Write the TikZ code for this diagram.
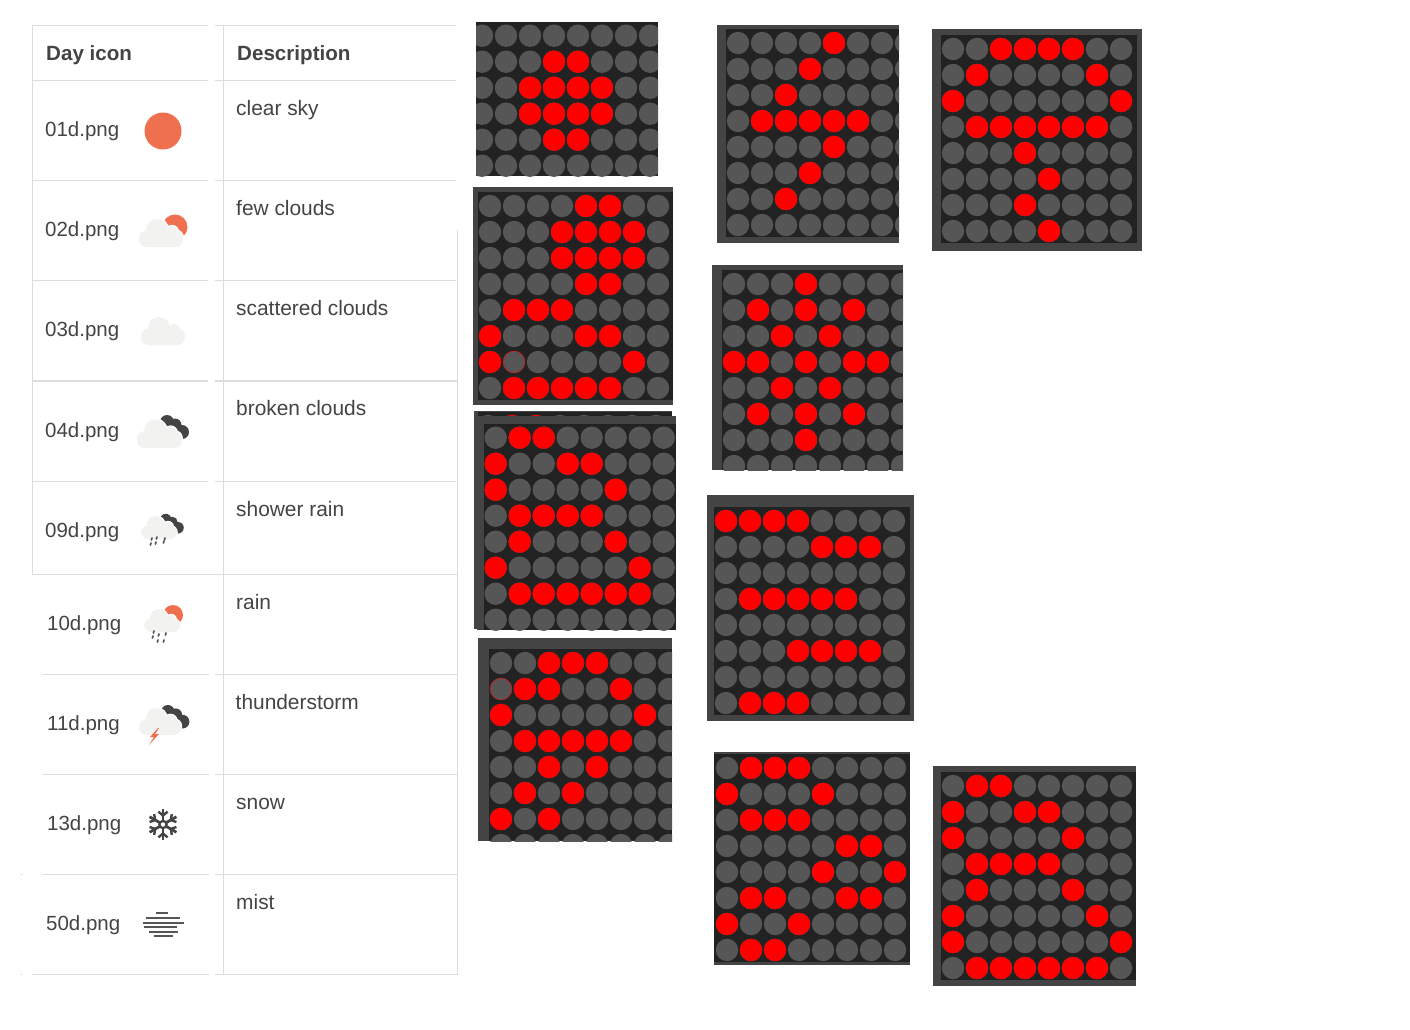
\documentclass[tikz,border=0pt]{standalone}
\usepackage{fontspec}
\setmainfont{Liberation Sans}
\definecolor{rulegrey}{HTML}{DDDDDD}
\definecolor{inktext}{HTML}{444444}
\definecolor{sunorange}{HTML}{EF704F}
\definecolor{cloudlight}{HTML}{F2F2F0}
\definecolor{clouddark}{HTML}{444446}
\definecolor{ledframe}{HTML}{444444}
\definecolor{ledbase}{HTML}{222222}
\definecolor{ledoff}{HTML}{565656}
\definecolor{ledon}{HTML}{FF0000}
\tikzset{
  rulea/.style={draw=rulegrey,line width=1pt},
  ruleb/.style={draw=rulegrey,line width=2pt},
  fname/.style={anchor=base west,inner sep=0pt,text=inktext,font=\fontsize{20.5}{24}\selectfont},
  fdesc/.style={anchor=base west,inner sep=0pt,text=inktext,font=\fontsize{20.9}{24}\selectfont},
  fhead/.style={anchor=base west,inner sep=0pt,text=inktext,font=\fontsize{20.6}{24}\selectfont\bfseries},
}
% outer frame
\newcommand\ledframebox[4]{\fill[ledframe] (#1,#2) rectangle (#3,#4);}
% inner panel: x0 y0 x1 y1, first dot centre, red cells by row
\newcommand\ledgrid[7]{%
  \begin{scope}
    \clip (#1,#2) rectangle (#3,#4);
    \fill[ledbase] (#1,#2) rectangle (#3,#4);
    \foreach \rr in {0,...,7}{\foreach \cc in {0,...,7}{
      \fill[ledoff] ({#5+24*\cc},{#6+26*\rr}) circle (11.2);}}
    \foreach \rr/\cs in {#7}{\foreach \cc in \cs{
      \fill[ledon] ({#5+24*\cc},{#6+26*\rr}) circle (11.2);}}
  \end{scope}}
\newcommand\cloudicon[3]{% light cloud with a thin white halo; x(left) y(bottom) scale
  \begin{scope}[shift={(#1,#2)},scale=#3]
    \fill[white] (18,-17) circle (12.2) (33,-15) circle (7.2);
    \fill[white,rounded corners=8] (-1,-17.5) rectangle (45,1);
    \fill[cloudlight,rounded corners=7.5] (0,-16.5) rectangle (44,0);
    \fill[cloudlight] (18,-17) circle (11);
    \fill[cloudlight] (33,-15) circle (6);
  \end{scope}}
\newcommand\darkcloud[3]{%
  \begin{scope}[shift={(#1,#2)},scale=#3]
    \fill[clouddark] (7,8) circle (7) (15,11) circle (6.5) (22,18) circle (7) (14,17) circle (5);
  \end{scope}}
\newcommand\raindrop[2]{\draw[ledoff,line width=1.7pt,line cap=round] (#1,#2) -- ++(-0.6,2);}
\begin{document}
\begin{tikzpicture}[x=1pt,y=-1pt]
\useasboundingbox (0,0) rectangle (1410,1029);
\fill[white] (0,0) rectangle (1410,1029);

% ---- table rules
\coordinate (tl) at (32,25);
\coordinate (bl) at (32,574);
\coordinate (ml) at (223,25);
\coordinate (mb) at (223,974);
\coordinate (rt) at (457,230);
\coordinate (rb) at (457,974);
\draw[rulea] (tl) -- (bl);
\draw[rulea] (ml) -- (mb);
\draw[rulea] (rt) -- (rb);
\foreach \yy in {25,80,180,280.3,481}{
  \draw[rulea] (32,\yy+0.5) -- (208,\yy+0.5);
  \draw[rulea] (215,\yy+0.5) -- (456,\yy+0.5);
}
\draw[ruleb] (32,381) -- (208,381);
\draw[ruleb] (215,381) -- (457,381);
\draw[rulea] (32,574.5) -- (458,574.5);
\foreach \yy in {674,774,874}{
  \draw[rulea] (43,\yy.5) -- (209,\yy.5);
  \draw[rulea] (215,\yy.5) -- (457,\yy.5);
}
\draw[rulea] (32,974.5) -- (209,974.5);
\draw[rulea] (215,974.5) -- (458,974.5);
\draw[rulegrey!70,line width=0.8pt] (20,874.5) -- (23,874.5);
\draw[rulegrey!70,line width=0.8pt] (20,974.5) -- (23,974.5);
\draw[rulegrey!70,line width=0.8pt] (20.5,574.5) -- (22,574.5);

% ---- table text
\node[fhead] (hIcon) at (46,60) {Day icon};
\node[fhead] (hDesc) at (237,60) {Description};
\node[fname] (n01) at (45,136) {01d.png};
\node[fname] (n02) at (45,236) {02d.png};
\node[fname] (n03) at (45,336) {03d.png};
\node[fname] (n04) at (45,437) {04d.png};
\node[fname] (n09) at (45,537) {09d.png};
\node[fname] (n10) at (47,630) {10d.png};
\node[fname] (n11) at (47,730) {11d.png};
\node[fname] (n13) at (47,830) {13d.png};
\node[fname] (n50) at (46,930) {50d.png};
\node[fdesc] (d01) at (236,115) {clear sky};
\node[fdesc] (d02) at (236,215) {few clouds};
\node[fdesc] (d03) at (236,315) {scattered clouds};
\node[fdesc] (d04) at (236,415) {broken clouds};
\node[fdesc] (d09) at (236,516) {shower rain};
\node[fdesc] (d10) at (236,609) {rain};
\node[fdesc] (d11) at (235.5,709) {thunderstorm};
\node[fdesc] (d13) at (236,809) {snow};
\node[fdesc] (d50) at (236,909) {mist};

% ---- icons
\fill[sunorange] (163,131) circle (18.5);
% 02d
\fill[sunorange] (175,227) circle (12.5);
\cloudicon{139}{247}{1}
% 03d
\cloudicon{141}{345}{1}
% 04d
\darkcloud{160}{414}{1}
\cloudicon{137}{448}{1.02}
% 09d
\darkcloud{160}{513}{0.82}
\cloudicon{141}{539}{0.82}
\foreach \dx/\dy in {151/543,152/538,156/542,157/537,164/541,165/538}{\raindrop{\dx}{\dy}}
% 10d
\fill[sunorange] (173,615) circle (10);
\cloudicon{144}{632}{0.82}
\foreach \dx/\dy in {153/636,154/631,158/640,159/634,164/640,166/633}{\raindrop{\dx}{\dy}}
% 11d
\darkcloud{161}{704}{0.98}
\cloudicon{139}{735}{0.96}
\fill[sunorange] (158,728) -- (150,737) -- (154,737) -- (149,745) -- (159,734) -- (155,734) -- (159,728) -- cycle;
% 13d snowflake
\begin{scope}[shift={(163,824.5)}]
  \foreach \aa in {30,90,150,210,270,330}{
    \draw[inktext,line width=2.8pt] (0,0) -- (\aa:15.5);
    \draw[inktext,line width=2.4pt] (\aa:9) -- ++(\aa+50:6);
    \draw[inktext,line width=2.4pt] (\aa:9) -- ++(\aa-50:6);
  }
  \fill[inktext] (0,0) circle (4.8);
  \fill[white] (0,0) circle (2.2);
\end{scope}
% 50d mist
\foreach \yy/\xa/\xb in {913/156/168,918/146/180,923/143/184,927/144/177,932/149/178,936/154/173}{
  \draw[ledoff,line width=1.6pt] (\xa,\yy) -- (\xb,\yy);
}

% ---- LED panels
% A
\ledgrid{476}{22}{658}{176}{482}{35.7}{1/{3,4},2/{2,3,4,5},3/{2,3,4,5},4/{3,4}}
% B
\ledframebox{473}{187}{673}{405}
\ledgrid{478}{192}{673}{400}{490}{206}{0/{4,5},1/{3,4,5,6},2/{3,4,5,6},3/{4,5},4/{1,2,3},5/{0,4,5},6/{0,6},7/{1,2,3,4,5}}
\draw[ledon,line width=0.4pt] (514,362) circle (10.8);
% C (two overlapping)
\ledframebox{474}{411}{672}{629}
\ledgrid{478}{412}{672}{629}{488}{426}{0/{1,2}}
\ledframebox{477}{416}{676}{630}
\ledgrid{484}{424}{676}{630}{495.7}{437.7}{0/{1,2},1/{0,3,4},2/{0,5},3/{1,2,3,4},4/{1,5},5/{0,6},6/{1,2,3,4,5,6}}
% D
\ledframebox{478}{638}{672}{841}
\ledgrid{489}{649}{672}{841}{501}{663}{0/{2,3,4},1/{1,2,5},2/{0,6},3/{1,2,3,4,5},4/{2,4},5/{1,3},6/{0,2}}
\draw[ledon,line width=0.4pt] (501,689) circle (10.8);
% E
\ledframebox{717}{25}{899}{243}
\ledgrid{726}{29}{899}{237}{738}{43}{0/{4},1/{3},2/{2},3/{1,2,3,4,5},4/{4},5/{3},6/{2}}
% F
\ledframebox{932}{29}{1142}{251}
\ledgrid{941}{35}{1137}{243}{953}{49}{0/{2,3,4,5},1/{1,6},2/{0,7},3/{1,2,3,4,5,6},4/{3},5/{4},6/{3},7/{4}}
% G
\ledframebox{712}{265}{903}{470}
\ledgrid{722}{270}{903}{470}{734}{284}{0/{3},1/{1,3,5},2/{2,4},3/{0,1,3,5,6},4/{2,4},5/{1,3,5},6/{3}}
% H
\ledframebox{707}{495}{914}{721}
\ledgrid{714}{507}{910}{715}{726}{521}{0/{0,1,2,3},1/{4,5,6},3/{1,2,3,4,5},5/{3,4,5,6},7/{1,2,3}}
% I
\ledframebox{714}{752}{910}{965}
\ledgrid{714}{754}{910}{962}{727}{768}{0/{1,2,3},1/{0,4},2/{1,2,3},3/{5,6},4/{4,7},5/{1,2,5,6},6/{0,3},7/{1,2}}
% J
\ledframebox{933}{766}{1136}{986}
\ledgrid{941}{772}{1136}{980}{953}{786}{0/{1,2},1/{0,3,4},2/{0,5},3/{1,2,3,4},4/{1,5},5/{0,6},6/{0,7},7/{1,2,3,4,5,6}}
\end{tikzpicture}
\end{document}
